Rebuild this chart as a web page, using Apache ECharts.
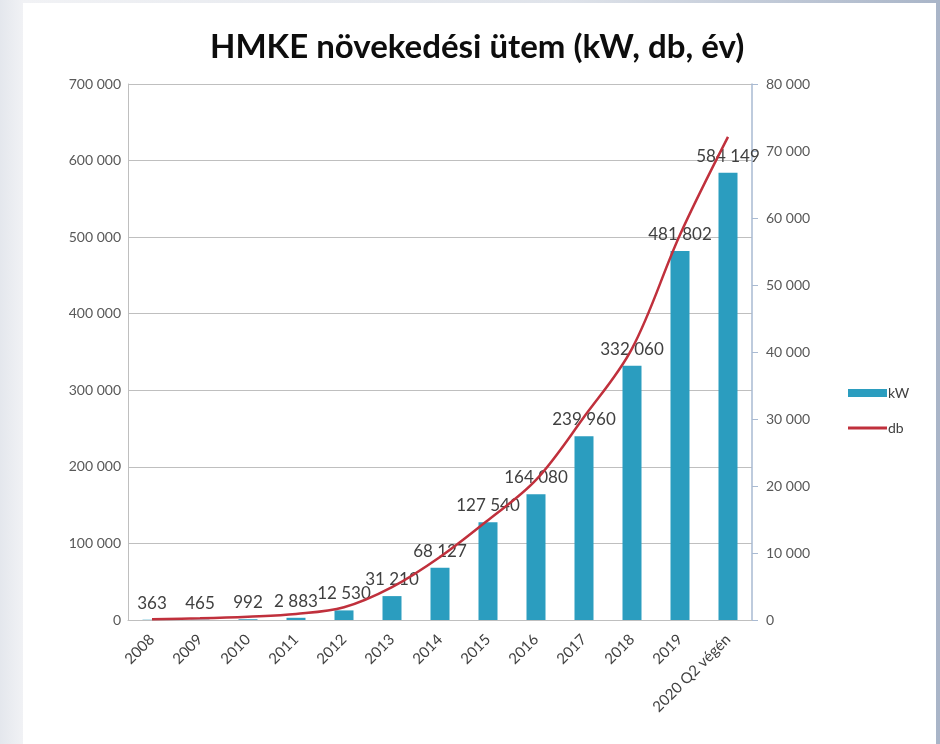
<!DOCTYPE html>
<html>
<head>
<meta charset="utf-8">
<script src="https://cdn.jsdelivr.net/npm/echarts@6/dist/echarts.min.js"></script>
<style>
  html, body { margin: 0; padding: 0; }
  body {
    width: 940px; height: 744px; overflow: hidden; position: relative;
    background: linear-gradient(to right, #e4e7ed 0%, #f1f2f5 2.5%, #dfe3ea 60%, #a9b5c8 100%);
  }
  #panel { position: absolute; left: 23px; top: 3px; width: 913px; height: 741px; background: #fff; }
  #chart { position: absolute; left: 0; top: 0; width: 940px; height: 744px; }
</style>
</head>
<body>
<div id="panel"></div>
<div id="chart"></div>
<script>
// HMKE növekedési ütem

const categories = ['2008', '2009', '2010', '2011', '2012', '2013', '2014', '2015', '2016', '2017', '2018', '2019', '2020 Q2 végén'];
const kwValues = [363, 465, 992, 2883, 12530, 31210, 68127, 127540, 164080, 239960, 332060, 481802, 584149];
const dbValues = [100, 250, 500, 900, 1900, 4900, 9400, 14900, 20900, 30300, 40500, 57500, 72100];

const fontFamily = 'Lato, "Noto Sans", sans-serif';

// szóközzel tagolt ezres csoportok: 584 149
function fmt(v) {
  return String(v).replace(/\B(?=(\d{3})+(?!\d))/g, ' ');
}

const chart = echarts.init(document.getElementById('chart'), null, { renderer: 'canvas' });

chart.setOption({
  backgroundColor: 'transparent',
  animation: false,
  textStyle: { fontFamily: fontFamily },
  title: {
    text: 'HMKE növekedési ütem (kW, db, év)',
    left: 205,
    top: 26,
    textStyle: { fontFamily: fontFamily, fontSize: 33, fontWeight: 'bold', color: '#0d0d0d' }
  },
  legend: [
    {
      data: ['kW'],
      left: 843, top: 381,
      icon: 'rect', itemWidth: 39, itemHeight: 8, itemGap: 0,
      textStyle: { fontFamily: fontFamily, fontSize: 14, color: '#404040', padding: [0, 0, 0, -4] }
    },
    {
      data: ['db'],
      left: 843, top: 416,
      icon: 'rect', itemWidth: 39, itemHeight: 3, itemGap: 0,
      textStyle: { fontFamily: fontFamily, fontSize: 14, color: '#404040', padding: [0, 0, 0, -4] }
    }
  ],
  grid: { left: 128, right: 188, top: 84, bottom: 124 },
  xAxis: {
    type: 'category',
    data: categories,
    axisLine: { lineStyle: { color: '#bfbfbf', width: 1 } },
    axisTick: { show: false },
    axisLabel: { rotate: 45, fontSize: 15, color: '#404040', margin: 17, fontFamily: fontFamily }
  },
  yAxis: [
    {
      type: 'value',
      min: 0, max: 700000, interval: 100000,
      axisLine: { show: true, lineStyle: { color: '#bfbfbf' } },
      axisTick: { show: false },
      splitLine: { lineStyle: { color: '#bfbfbf', width: 1 } },
      axisLabel: { formatter: fmt, fontSize: 14, color: '#595959', margin: 7, fontFamily: fontFamily }
    },
    {
      type: 'value',
      min: 0, max: 80000, interval: 10000,
      axisLine: { show: true, lineStyle: { color: '#a9bad2', width: 1.5 } },
      axisTick: { show: true, inside: false, length: 6, lineStyle: { color: '#a9bad2' } },
      splitLine: { show: false },
      axisLabel: { formatter: fmt, fontSize: 14, color: '#595959', margin: 14, fontFamily: fontFamily }
    }
  ],
  series: [
    {
      name: 'kW',
      type: 'bar',
      yAxisIndex: 0,
      data: kwValues,
      barWidth: 19,
      itemStyle: { color: '#2b9dbf' },
      label: {
        show: true,
        position: 'top',
        distance: 8,
        formatter: (p) => fmt(p.value),
        fontSize: 17,
        color: '#404040',
        fontFamily: fontFamily
      },
      z: 2
    },
    {
      name: 'db',
      type: 'line',
      yAxisIndex: 1,
      data: dbValues,
      smooth: 0.35,
      showSymbol: false,
      lineStyle: { color: '#c0303c', width: 2.5 },
      itemStyle: { color: '#c0303c' },
      z: 3
    }
  ]
});
</script>
</body>
</html>
